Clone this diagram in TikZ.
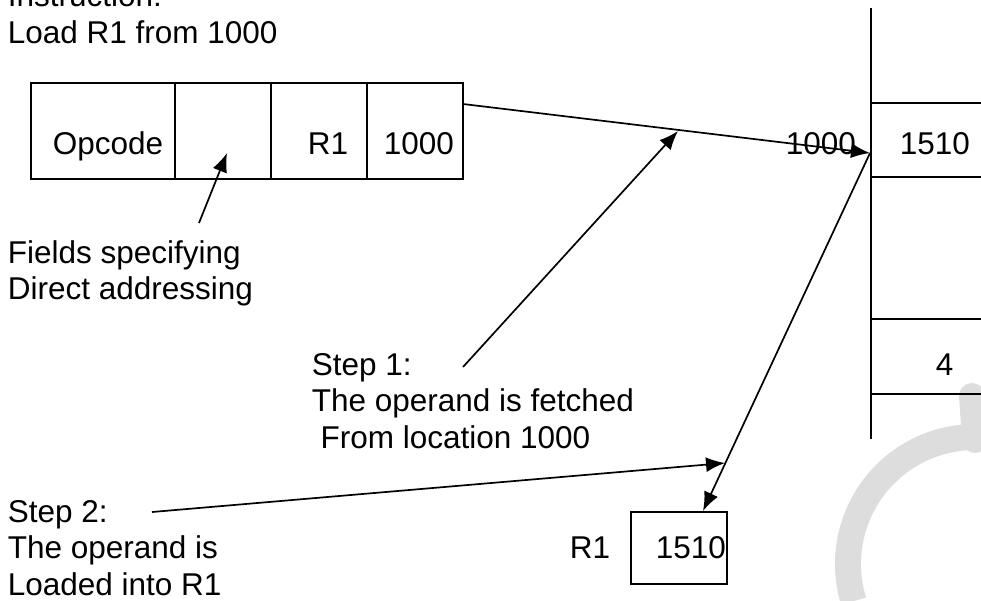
\documentclass[tikz,border=0pt]{standalone}
\usepackage{fontspec}
\setmainfont{Liberation Sans}
\usetikzlibrary{arrows.meta}
\definecolor{wmgray}{RGB}{221,221,221}
\begin{document}
\begin{tikzpicture}[x=1pt, y=-1pt, >={Latex[length=19pt,width=15pt]}, line width=1.7pt,
    cell/.style={draw, minimum width=96pt, minimum height=96pt, inner sep=0pt},
    memcell/.style={minimum width=110pt, minimum height=72pt, inner sep=0pt},
    txt/.style={anchor=base west, inner sep=0pt, align=left,
        font=\fontsize{31.5}{36.5}\selectfont}]
    \useasboundingbox (0,0) rectangle (981,600);

    % 1. Watermark
    \begin{scope}
        \clip (0,0) rectangle (981,600);
        \draw[wmgray, line width=26pt] (975,564) ++(163:127) arc[start angle=163, end angle=300, radius=127];
        \draw[wmgray, line width=26pt, line cap=round] (972,396) -- (975,440);
    \end{scope}

    % 2. Instruction
    \node[txt] (instr) at (7,43) {Instruction:\\Load R1 from 1000};
    \node[cell, minimum width=144pt] (opc) at (103,131) {};
    \node[cell] (mode) at (223,131) {};
    \node[cell] (reg) at (319,131) {};
    \node[cell] (addr) at (415,131) {};
    \node[txt] (opctxt) at (52,154) {Opcode};
    \node[txt] (regtxt) at (307,154) {R1};
    \node[txt] (addrtxt) at (383,154) {1000};

    % 3. Memory
    \coordinate (memtop) at (871,8);
    \coordinate (membot) at (871,439);
    \draw (memtop) -- (membot);
    \node[memcell] (word) at (926,140) {};
    \node[memcell, minimum height=73pt] (wordb) at (926,356.5) {};
    \draw (word.north west) -- (word.north east) (word.south west) -- (word.south east);
    \draw (wordb.north west) -- (wordb.north east) (wordb.south west) -- (wordb.south east);
    \node[txt] (wordtxt) at (899,154) {1510};
    \node[txt] (wordbtxt) at (935,375) {4};
    \node[txt] (loc) at (785,154) {1000};

    % 4. Register R1
    \node[cell, minimum height=72pt] (r1) at (679,548) {};
    \node[txt] (r1txt) at (655,558) {1510};
    \node[txt] (r1name) at (569,558) {R1};

    % 5. Notes
    \node[txt] (fields) at (7,299.5) {Fields specifying\\Direct addressing};
    \node[txt] (step1) at (311,448) {Step 1:\\The operand is fetched\\\hspace*{.278em}From location 1000};
    \node[txt] (step2) at (7,595) {Step 2:\\The operand is\\Loaded into R1};

    % 6. Arrows
    \coordinate (ptrsrc) at (463,104);
    \coordinate (ptr) at (870,153);
    \coordinate (fieldsend) at (199,223);
    \coordinate (modept) at (227,153);
    \coordinate (stepa) at (463,367);
    \coordinate (stepatip) at (678,131);
    \coordinate (r1in) at (703,511);
    \coordinate (stepb) at (152,512);
    \coordinate (stepbtip) at (725,463);
    \draw[->] (ptrsrc) -- (ptr);
    \draw[->] (fieldsend) -- (modept);
    \draw[->] (stepa) -- (stepatip);
    \draw[->] (ptr) -- (r1in);
    \draw[->] (stepb) -- (stepbtip);
\end{tikzpicture}
\end{document}
